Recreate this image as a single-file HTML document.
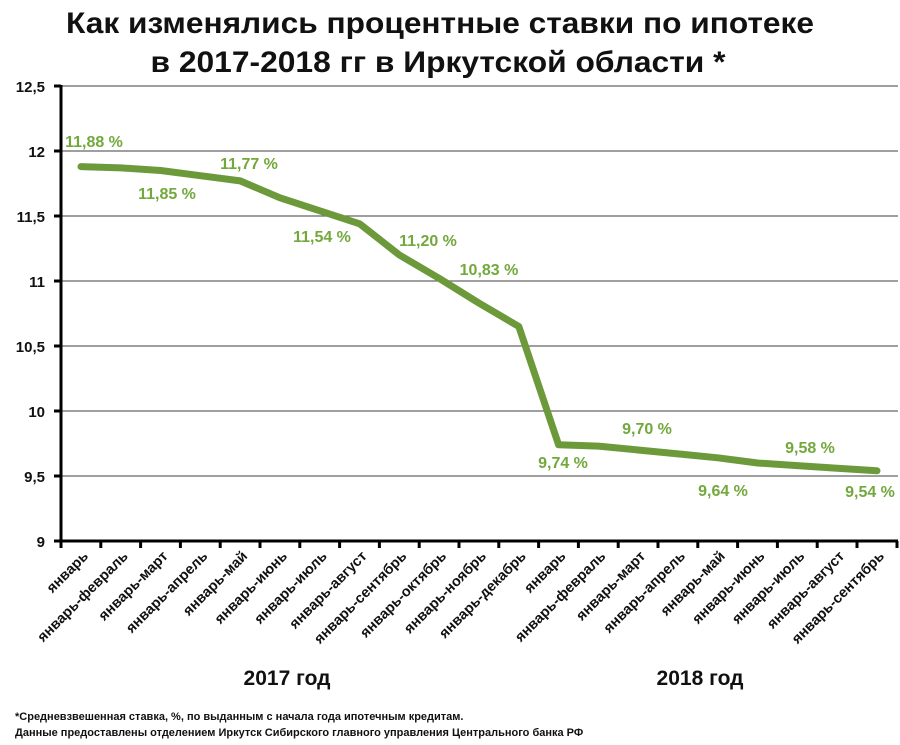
<!DOCTYPE html>
<html><head><meta charset="utf-8"><style>
html,body{margin:0;padding:0;background:#fff;}
svg{display:block;font-family:"Liberation Sans","DejaVu Sans",sans-serif;font-weight:bold;}
</style></head><body>
<svg width="900" height="745" viewBox="0 0 900 745" xmlns="http://www.w3.org/2000/svg">
<text x="440" y="33" font-size="30" text-anchor="middle" fill="#111" textLength="748" lengthAdjust="spacingAndGlyphs">Как  изменялись процентные ставки по ипотеке</text>
<text x="438" y="72" font-size="30" text-anchor="middle" fill="#111" textLength="575" lengthAdjust="spacingAndGlyphs">в 2017-2018 гг в Иркутской области *</text>
<g stroke="#666" stroke-width="1.3">
<line x1="61" y1="86" x2="898" y2="86"/><line x1="61" y1="151" x2="898" y2="151"/>
<line x1="61" y1="216" x2="898" y2="216"/><line x1="61" y1="281" x2="898" y2="281"/>
<line x1="61" y1="346" x2="898" y2="346"/><line x1="61" y1="411" x2="898" y2="411"/>
<line x1="61" y1="476" x2="898" y2="476"/>
</g>
<g stroke="#000" stroke-width="3">
<line x1="61" y1="85" x2="61" y2="543"/><line x1="60" y1="541" x2="898" y2="541"/>
<line x1="54" y1="86" x2="61" y2="86"/><line x1="54" y1="151" x2="61" y2="151"/><line x1="54" y1="216" x2="61" y2="216"/><line x1="54" y1="281" x2="61" y2="281"/><line x1="54" y1="346" x2="61" y2="346"/><line x1="54" y1="411" x2="61" y2="411"/><line x1="54" y1="476" x2="61" y2="476"/><line x1="54" y1="541" x2="61" y2="541"/>
</g>
<g id="ticks" stroke="#000" stroke-width="3"></g>
<g font-size="15" text-anchor="end" fill="#111">
<text x="45" y="92">12,5</text><text x="45" y="157">12</text><text x="45" y="222">11,5</text><text x="45" y="287">11</text><text x="45" y="352">10,5</text><text x="45" y="417">10</text><text x="45" y="482">9,5</text><text x="45" y="547">9</text>
</g>
<polyline id="ln" fill="none" stroke="#6c9a3a" stroke-width="7" stroke-linejoin="round" stroke-linecap="round" points=""/>
<g id="cats" font-size="14.5" text-anchor="end" fill="#111"></g>
<g font-size="16" fill="#72a83c" text-anchor="middle">
<text x="94" y="147">11,88 %</text><text x="167" y="199">11,85 %</text><text x="249" y="169">11,77 %</text>
<text x="322" y="242">11,54 %</text><text x="428" y="246">11,20 %</text><text x="489" y="275">10,83 %</text>
<text x="563" y="468">9,74 %</text><text x="647" y="434">9,70 %</text><text x="723" y="496">9,64 %</text>
<text x="810" y="453">9,58 %</text><text x="870" y="497">9,54 %</text>
</g>
<text x="287" y="685" font-size="21" text-anchor="middle" fill="#111">2017 год</text>
<text x="700" y="685" font-size="21" text-anchor="middle" fill="#111">2018 год</text>
<text x="15" y="720" font-size="11" fill="#111">*Средневзвешенная ставка, %, по выданным с начала года ипотечным кредитам.</text>
<text x="15" y="736" font-size="11" fill="#111">Данные предоставлены отделением Иркутск Сибирского главного управления Центрального банка РФ</text>
</svg>
<script>
var v=[11.88,11.87,11.85,11.81,11.77,11.64,11.54,11.44,11.20,11.02,10.83,10.65,9.74,9.73,9.70,9.67,9.64,9.60,9.58,9.56,9.54];
var c=["январь","январь-февраль","январь-март","январь-апрель","январь-май","январь-июнь","январь-июль","январь-август","январь-сентябрь","январь-октябрь","январь-ноябрь","январь-декабрь","январь","январь-февраль","январь-март","январь-апрель","январь-май","январь-июнь","январь-июль","январь-август","январь-сентябрь"];
var ns="http://www.w3.org/2000/svg",p=[],t=document.getElementById("ticks"),g=document.getElementById("cats");
for(var i=0;i<21;i++){var x=81+39.8*i,y=541-(v[i]-9)*130;p.push(x.toFixed(1)+","+y.toFixed(1));
var tx=61+39.8*i;var l=document.createElementNS(ns,"line");l.setAttribute("x1",tx);l.setAttribute("x2",tx);l.setAttribute("y1",541);l.setAttribute("y2",548);t.appendChild(l);
var e=document.createElementNS(ns,"text");e.setAttribute("transform","translate("+(x+8)+",557) rotate(-45)");e.textContent=c[i];g.appendChild(e);}
var l2=document.createElementNS(ns,"line");l2.setAttribute("x1",897);l2.setAttribute("x2",897);l2.setAttribute("y1",541);l2.setAttribute("y2",548);t.appendChild(l2);
document.getElementById("ln").setAttribute("points",p.join(" "));
</script>
</body></html>
